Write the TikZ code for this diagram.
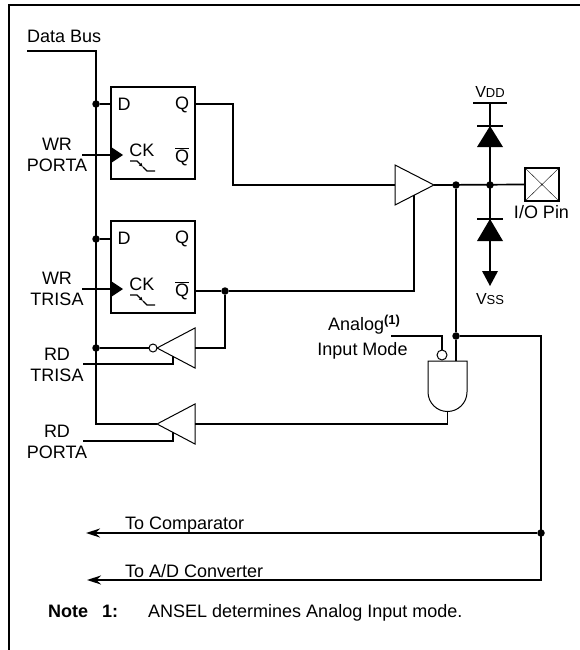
\documentclass[tikz,border=0pt]{standalone}
\usepackage{fontspec}
\setmainfont{Liberation Sans}
\usetikzlibrary{arrows.meta}

\tikzset{
  wire/.style={line width=1.7pt},
  gateline/.style={line width=1pt},
  jdot/.style={circle,fill,inner sep=0pt,minimum size=7.5pt},
  lbl/.style={inner sep=0pt,font=\fontsize{18}{21}\selectfont},
  ffbox/.style={draw,line width=1.5pt,minimum width=84pt,minimum height=92pt,inner sep=0pt},
  outarrow/.style={-{Stealth[length=14pt,width=9pt]}},
}

\begin{document}
\begin{tikzpicture}[x=1pt,y=-1pt]
\useasboundingbox (0,0) rectangle (579,650);
% frame
\draw[line width=2.2pt] (9,660) -- (9,5) -- (590,5);

% the two latches
\foreach \n/\t in {1/87,2/221} {
\node[ffbox] (ff\n) at (153,\t+46) {};
\node[lbl] (ffd\n) at (124,\t+17.5) {D};
\node[lbl] (ffq\n) at (182,\t+17.5) {Q};
\node[lbl] (ffck\n) at (142,\t+63) {CK};
\node[lbl] (ffnq\n) at (182,\t+70) {$\overline{\mbox{Q}}$};
\fill (111,\t+60) -- (123,\t+68) -- (111,\t+76) -- cycle;
\draw[line width=1.2pt,-{Latex[length=4pt,width=4pt]}] (130,\t+74) -- (137,\t+74) -- (143,\t+80);
\draw[line width=1.2pt] (143,\t+80) -- (147,\t+84) -- (155,\t+84);
}

% junctions
\node[jdot] (jd1) at (96,104) {};
\node[jdot] (jd2) at (96,239) {};
\node[jdot] (jd3) at (96,348) {};
\node[jdot] (jnq) at (225,291) {};
\node[jdot] (jout) at (456,185) {};
\node[jdot] (jpin) at (490,185) {};
\node[jdot] (jan) at (456,336) {};
\node[jdot] (jcmp) at (541,533) {};

% gates
\draw[gateline] (395,165) -- (434,185) -- (395,205) -- cycle; % output driver
\coordinate (drvin) at (395,185);
\coordinate (drvout) at (434,185);
\draw[gateline] (195,328) -- (157,348) -- (195,368) -- cycle; % TRIS read
\draw[gateline] (153,348) circle[radius=4pt];
\draw[gateline] (195,404) -- (157,424) -- (195,444) -- cycle; % PORT read
\coordinate (rdptip) at (157,424);
\draw[gateline] (428,361) -- (428,392) arc[start angle=180,end angle=360,radius=19.5pt] -- (467,361) -- cycle;
\draw[gateline] (442,355) circle[radius=5pt];
\coordinate (andout) at (447.5,411.5);

% wires
\draw[wire] (27,51) -- (96,51) -- (96,424) -- (rdptip);
\draw[wire] (jd1) -- (ff1.west |- jd1);
\draw[wire] (jd2) -- (ff2.west |- jd2);
\draw[wire] (82,155) -- (111,155);
\draw[wire] (82,289) -- (111,289);
\draw[wire] (ff1.east |- jd1) -- (233,104) -- (233,185) -- (drvin);
\draw[wire] (195,291) -- (jnq) -- (414,291) -- (414,195);
\draw[wire] (jnq) -- (225,348) -- (195,348);
\draw[wire] (jd3) -- (149,348);
\draw[wire] (83,364) -- (173,364) -- (173,356.4);
\draw[wire] (83,441) -- (173,441) -- (173,432.4);
\draw[wire] (andout) -- (447.5,424) -- (195,424);
\draw[wire] (jout) -- (jan) -- (456,361);
\draw[wire] (391,336) -- (442,336) -- (442,350);
\draw[wire,outarrow] (jan) -- (541,336) -- (541,580) -- (87,580);
\draw[wire,outarrow] (jcmp) -- (86,533);

% pin and clamp diodes
\node[draw,line width=1.5pt,minimum width=34pt,minimum height=33pt,inner sep=0pt] (pin) at (542,184.5) {};
\draw[thin] (pin.north west) -- (pin.south east) (pin.north east) -- (pin.south west);
\draw[wire] (drvout) -- (pin.west);
\draw[wire] (490,103) -- (490,273);
\draw[wire] (473,103) -- (507,103);
\draw[wire] (477,126) -- (503,126);
\fill (477,147) -- (503,147) -- (490,126) -- cycle;
\draw[wire] (477,219) -- (503,219);
\fill (477,241) -- (503,241) -- (490,219) -- cycle;
\fill (482,271) -- (498,271) -- (490,286) -- cycle;

% labels
\node[lbl,anchor=base west] (databus) at (27,43) {Data Bus};
\node[lbl,align=center] (wrporta) at (57,155) {WR\\PORTA};
\node[lbl,align=center] (wrtrisa) at (57,289) {WR\\TRISA};
\node[lbl,align=center] (rdtrisa) at (57,365) {RD\\TRISA};
\node[lbl,align=center] (rdporta) at (57,442) {RD\\PORTA};
\node[lbl,anchor=base] (vdd) at (490,98) {\fontsize{16}{16}\selectfont V\fontsize{13}{13}\selectfont DD};
\node[lbl,anchor=base] (vss) at (490,304) {\fontsize{16}{16}\selectfont V\fontsize{13}{13}\selectfont SS};
\node[lbl,anchor=base] (iopin) at (541.5,218) {I/O Pin};
\node[lbl,anchor=base] (analog) at (364,330) {Analog\raisebox{6pt}{\fontsize{13}{13}\selectfont\bfseries (1)}};
\node[lbl,anchor=base] (inmode) at (362.5,355) {Input Mode};
\node[lbl,anchor=base west] (tocmp) at (125,529) {To Comparator};
\node[lbl,anchor=base west] (toad) at (125,577) {To A/D Converter};
\node[lbl,anchor=base west,font=\fontsize{18}{21}\selectfont\bfseries] (notehd) at (48,617) {Note};
\node[lbl,anchor=base west,font=\fontsize{18}{21}\selectfont\bfseries] (notenum) at (102,617) {1:};
\node[lbl,anchor=base west] (notetxt) at (148,617) {ANSEL determines Analog Input mode.};
\end{tikzpicture}
\end{document}
